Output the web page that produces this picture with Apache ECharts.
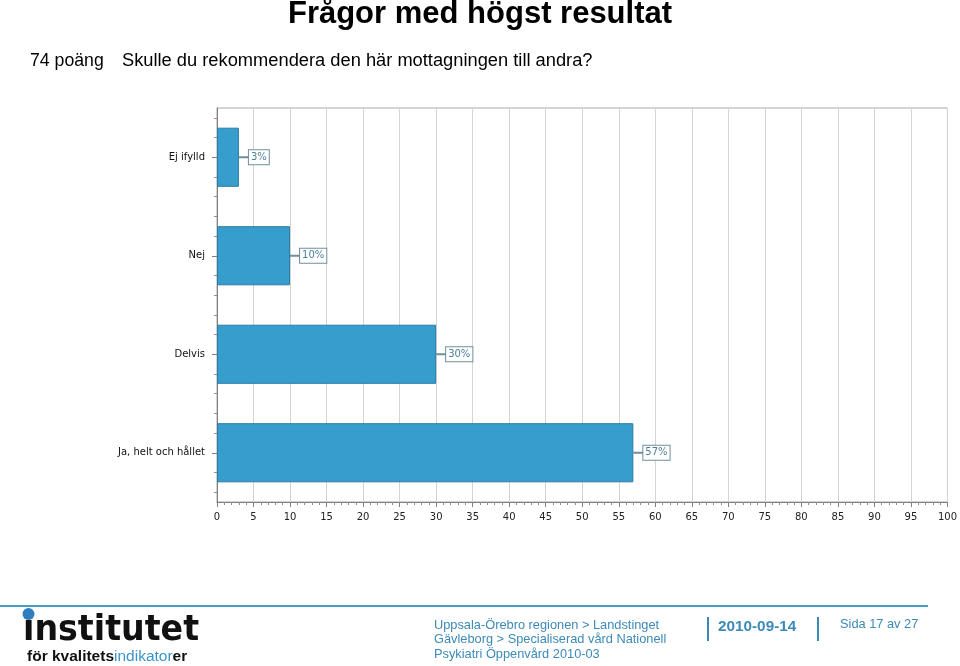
<!DOCTYPE html>
<html>
<head>
<meta charset="utf-8">
<script src="https://cdn.jsdelivr.net/npm/echarts@6/dist/echarts.min.js"></script>
<style>html,body{margin:0;padding:0;background:#fff}#c{width:960px;height:666px}</style>
</head>
<body>
<div id="c"></div>
<script>
const categories = ['Ej ifylld', 'Nej', 'Delvis', 'Ja, helt och hållet'];
const values = [3, 10, 30, 57];
const xTicks = [0,5,10,15,20,25,30,35,40,45,50,55,60,65,70,75,80,85,90,95,100];

const chart = echarts.init(document.getElementById('c'), null, {renderer: 'canvas'});
const minorY = [];
for (let i = 0; i < categories.length; i++) {
  [1, 3, 7, 9].forEach(o => minorY.push(i * 10 + o));
}
const tickFont = 'DejaVu Sans';
chart.setOption({
  animation: false,
  backgroundColor: '#fff',
  grid: {left: 217, right: 9, top: 108, bottom: 164, show: true, borderColor: '#a8a8a8', borderWidth: 1},
  xAxis: {
    type: 'value', min: xTicks[0], max: xTicks[xTicks.length - 1], interval: 5,
    axisLine: {show: true, onZero: false, lineStyle: {color: '#808080'}},
    axisTick: {show: true, length: 5, lineStyle: {color: '#808080'}},
    minorTick: {show: true, splitNumber: 5, length: 3, lineStyle: {color: '#909090'}},
    splitLine: {show: true, lineStyle: {color: '#d4d4d4', width: 1}},
    axisLabel: {color: '#222', fontFamily: tickFont, fontSize: 10, margin: 10}
  },
  yAxis: [{
    type: 'category', data: categories, inverse: true,
    axisLine: {show: true, onZero: false, lineStyle: {color: '#808080'}},
    axisTick: {show: true, alignWithLabel: true, length: 5, lineStyle: {color: '#808080'}},
    axisLabel: {color: '#111', fontFamily: tickFont, fontSize: 10, margin: 12}
  }, {
    type: 'value', position: 'left', min: 0, max: 40, inverse: true,
    axisLine: {show: false, onZero: false}, splitLine: {show: false},
    axisLabel: {show: false},
    axisTick: {show: true, length: 3, customValues: minorY, lineStyle: {color: '#909090'}}
  }],
  series: [{
    type: 'bar', data: values, barWidth: '60%', yAxisIndex: 0,
    itemStyle: {color: '#379dcd', borderColor: '#2a7ba5', borderWidth: 1},
    label: {
      show: true, position: 'right', distance: 0,
      formatter: p => '{l|}{b|' + p.value + '%}',
      rich: {
        l: {width: 10, height: 2, backgroundColor: '#6d8f9c'},
        b: {color: '#4d7e98', fontFamily: tickFont, fontSize: 10, borderColor: '#6d8f9c', borderWidth: 1,
            padding: [2, 2, 2, 2], backgroundColor: '#fff'}
      }
    }
  }],
  graphic: [
    {type: 'text', left: 'center', top: -1, style: {text: 'Frågor med högst resultat', font: 'bold 31px "Liberation Sans", Arial', fill: '#000'}},
    {type: 'text', left: 30, top: 52, style: {text: '74 poäng', font: '17.7px "Liberation Sans", Arial', fill: '#000'}},
    {type: 'text', left: 122, top: 52, style: {text: 'Skulle du rekommendera den här mottagningen till andra?', font: '18.3px "Liberation Sans", Arial', fill: '#000'}},
    {type: 'line', shape: {x1: 0, y1: 606, x2: 928, y2: 606}, style: {stroke: '#4a9cc6', lineWidth: 2}},
    {type: 'circle', shape: {cx: 28.5, cy: 614, r: 6}, style: {fill: '#2f7fc0'}},
    {type: 'text', x: 23, y: 631, scaleX: 0.95, style: {text: 'ınstitutet', font: 'bold 35px "DejaVu Sans"', fill: '#111', verticalAlign: 'middle'}},
    {type: 'text', left: 27, top: 649, style: {
      text: '{a|för kvalitets}{b|indikator}{a|er}',
      rich: {
        a: {font: 'bold 15.5px "Liberation Sans", Arial', fill: '#111'},
        b: {font: '15.5px "Liberation Sans", Arial', fill: '#3a95cc'}
      }}},
    {type: 'text', left: 434, top: 618, style: {
      text: 'Uppsala-Örebro regionen > Landstinget\nGävleborg > Specialiserad vård Nationell\nPsykiatri Öppenvård 2010-03',
      font: '12.8px "Liberation Sans", Arial', fill: '#3c8ab8', lineHeight: 14.5}},
    {type: 'rect', shape: {x: 707, y: 617, width: 2, height: 24}, style: {fill: '#3c8ab8'}},
    {type: 'text', left: 718, top: 619, style: {text: '2010-09-14', font: 'bold 15.3px "Liberation Sans", Arial', fill: '#3c8ab8'}},
    {type: 'rect', shape: {x: 817, y: 617, width: 2, height: 24}, style: {fill: '#3c8ab8'}},
    {type: 'text', left: 840, top: 618, style: {text: 'Sida 17 av 27', font: '12.8px "Liberation Sans", Arial', fill: '#3c8ab8'}}
  ]
});
</script>
</body>
</html>
